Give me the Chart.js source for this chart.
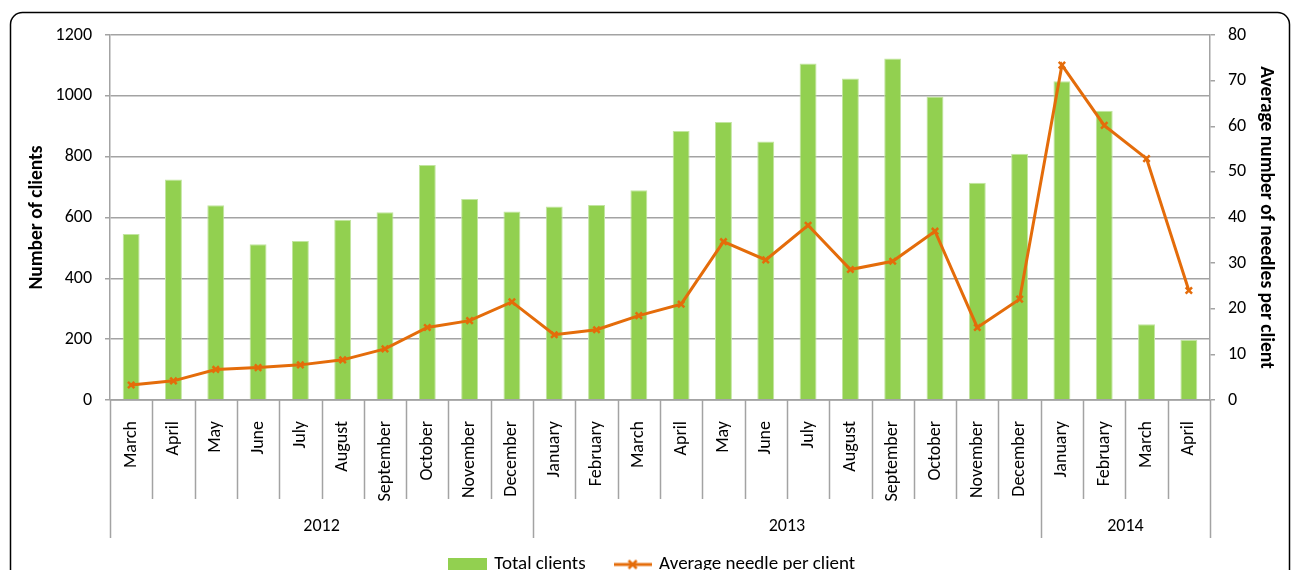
<!DOCTYPE html>
<html><head><meta charset="utf-8">
<script src="https://cdn.jsdelivr.net/npm/chart.js@4.4.0/dist/chart.umd.min.js"></script>
<style>
html,body{margin:0;padding:0;background:#fff;overflow:hidden}
#wrap{width:1296px;height:570px;overflow:hidden;position:relative}
#c{display:block}
</style></head><body>
<div id="wrap"><canvas id="c" width="1296" height="600" style="width:1296px;height:600px"></canvas></div>
<script>
const months = ['March','April','May','June','July','August','September','October','November','December',
  'January','February','March','April','May','June','July','August','September','October','November','December',
  'January','February','March','April'];
const yearLabels = ['2012','2013','2014'];
const yearSpans = [10,12,4];
const totalClients = [546,725,640,512,523,593,617,773,661,620,
  636,641,690,884,914,850,1106,1057,1123,998,714,810,
  1048,951,249,198];
const avgNeedles = [3.3,4.2,6.7,7.1,7.7,8.8,11.2,15.9,17.4,21.5,
  14.3,15.4,18.5,21.0,34.7,30.7,38.3,28.6,30.4,37.0,15.9,22.1,
  73.4,60.2,52.9,24.0];
const leftTitle = 'Number of clients';
const rightTitle = 'Average number of needles per client';
const seriesNames = ['Total clients','Average needle per client'];

const GREEN = '#92D050', ORANGE = '#E46C0A', GRID = '#a3a3a3';
const FONT = 'Carlito, Lato, sans-serif';

function legendImg(kind){
  const cv = document.createElement('canvas');
  const g = cv.getContext('2d');
  if(kind==='bar'){ cv.width=39; cv.height=14; g.fillStyle=GREEN; g.fillRect(0,0,39,14); }
  else {
    cv.width=38; cv.height=12; g.strokeStyle=ORANGE; g.lineWidth=3;
    g.beginPath(); g.moveTo(0,6); g.lineTo(38,6); g.stroke();
    g.lineWidth=2.5; g.beginPath(); g.moveTo(15,2); g.lineTo(23,10); g.moveTo(23,2); g.lineTo(15,10); g.stroke();
  }
  return cv;
}

const framePlugin = {
  id:'frame',
  beforeDraw(chart){
    const ctx=chart.ctx; ctx.save();
    ctx.fillStyle='#fff'; ctx.fillRect(0,0,chart.width,chart.height);
    ctx.beginPath(); ctx.roundRect(10.5,12.5,1279,700,12);
    ctx.lineWidth=1.5; ctx.strokeStyle='#000'; ctx.stroke(); ctx.restore();
  }
};

const groupPlugin = {
  id:'groups',
  afterDraw(chart){
    const a=chart.chartArea, ctx=chart.ctx, n=months.length;
    const w=(a.right-a.left)/n;
    ctx.save(); ctx.strokeStyle=GRID; ctx.lineWidth=1.5;
    ctx.beginPath(); ctx.moveTo(a.left,a.bottom); ctx.lineTo(a.right,a.bottom); ctx.stroke();
    const yb=new Set([0]); let acc=0; yearSpans.forEach(s=>{acc+=s; yb.add(acc);});
    for(let i=0;i<=n;i++){
      const xx=Math.round(a.left+i*w)+0.5;
      ctx.beginPath(); ctx.moveTo(xx,a.bottom); ctx.lineTo(xx,a.bottom+(yb.has(i)?138:99)); ctx.stroke();
    }
    ctx.fillStyle='#000'; ctx.font='18px '+FONT; ctx.textAlign='center'; ctx.textBaseline='middle';
    acc=0;
    yearSpans.forEach((s,k)=>{ const cx=a.left+(acc+s/2)*w; ctx.fillText(yearLabels[k],cx,a.bottom+126); acc+=s; });
    ctx.restore();
  }
};

new Chart(document.getElementById('c'),{
  data:{
    labels:months,
    datasets:[
      {type:'bar',label:seriesNames[0],data:totalClients,backgroundColor:GREEN,borderColor:'#c2e5a0',borderWidth:1,
       barPercentage:0.40,categoryPercentage:1,yAxisID:'y',order:1},
      {type:'line',label:seriesNames[1],data:avgNeedles,borderColor:ORANGE,backgroundColor:ORANGE,borderWidth:3,
       pointStyle:'crossRot',pointRadius:4.5,pointBorderWidth:2.5,pointBorderColor:ORANGE,tension:0,yAxisID:'y1',order:0}
    ]
  },
  options:{
    responsive:false,animation:false,
    layout:{padding:{left:20,right:10,top:35,bottom:16}},
    plugins:{
      tooltip:{enabled:false},
      legend:{position:'bottom',labels:{usePointStyle:true,pointStyleWidth:34,padding:30,color:'#000',
        font:{family:FONT,size:19},
        generateLabels(){ return [
          {text:seriesNames[0],pointStyle:legendImg('bar'),fillStyle:GREEN,strokeStyle:GREEN,lineWidth:0,datasetIndex:0,hidden:false,fontColor:'#000'},
          {text:seriesNames[1],pointStyle:legendImg('line'),fillStyle:ORANGE,strokeStyle:ORANGE,lineWidth:0,datasetIndex:1,hidden:false,fontColor:'#000'}
        ]; }}}
    },
    scales:{
      x:{type:'category',offset:true,grid:{display:false},border:{display:false},
        ticks:{autoSkip:false,minRotation:90,maxRotation:90,padding:13,color:'#000',font:{family:FONT,size:18}},
        afterFit(s){ s.height=125; }},
      y:{position:'left',min:0,max:1200,
        ticks:{stepSize:200,padding:13,color:'#000',font:{family:FONT,size:18},callback:v=>String(v)},
        grid:{color:GRID,lineWidth:1.5,tickLength:5},border:{color:GRID,width:1.5},
        title:{display:true,text:leftTitle,color:'#000',font:{family:FONT,size:19.5,weight:'bold'},padding:{top:5,bottom:0}},
        afterFit(s){ s.width=90; }},
      y1:{position:'right',min:0,max:80,
        ticks:{stepSize:10,padding:13,color:'#000',font:{family:FONT,size:18},callback:v=>String(v)},
        grid:{drawOnChartArea:false,color:GRID,lineWidth:1.5,tickLength:5},border:{color:GRID,width:1.5},
        title:{display:true,text:rightTitle,color:'#000',font:{family:FONT,size:19.5,weight:'bold'},padding:{top:8,bottom:0}},
        afterFit(s){ s.width=76; }}
    }
  },
  plugins:[framePlugin,groupPlugin]
});
</script></body></html>
